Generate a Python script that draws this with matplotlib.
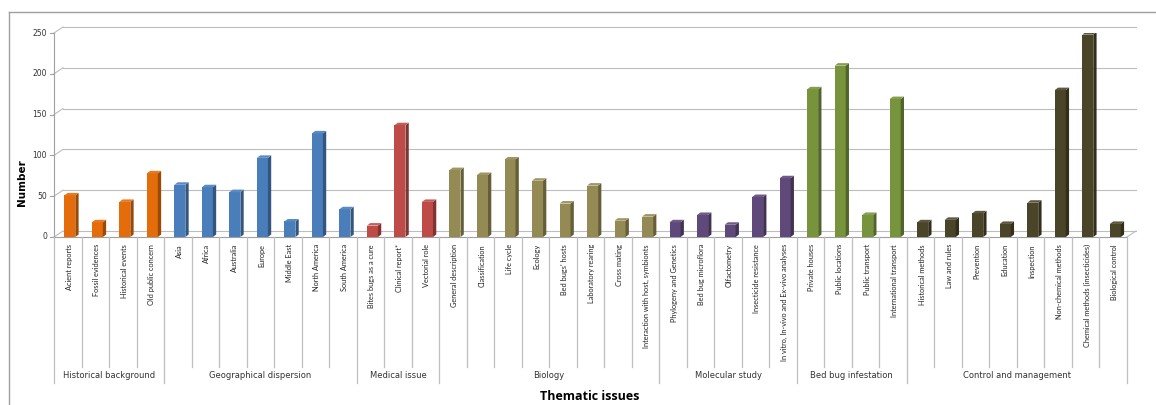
import matplotlib.pyplot as plt
from matplotlib.patches import Polygon, Rectangle
from matplotlib.lines import Line2D

groups = ["Historical background", "Geographical dispersion", "Medical issue", "Biology",
          "Molecular study", "Bed bug infestation", "Control and management"]

categories = [
    ["Acient reports", "Fossil evidences", "Historical events", "Old public concern"],
    ["Asia", "Africa", "Australia", "Europe", "Middle East", "North America", "South America"],
    ["Bites bugs as a cure", "Clinical report*", "Vectorial role"],
    ["General description", "Classification", "Life cycle", "Ecology", "Bed bugs' hosts",
     "Laboratory rearing", "Cross mating", "Interaction with host, symbionts"],
    ["Phylogeny and Genetics", "Bed bug microflora", "Olfactometry", "Insecticide resistance",
     "In vitro, In-vivo and Ex-vivo analyses"],
    ["Private houses", "Public locations", "Public transport", "International transport"],
    ["Historical methods", "Law and rules", "Prevention", "Education", "Inspection",
     "Non-chemical methods", "Chemical methods (insecticides)", "Biological control"],
]

values = [
    [51, 18, 43, 78],
    [64, 61, 55, 97, 19, 127, 34],
    [14, 137, 43],
    [82, 76, 95, 69, 41, 63, 20, 25],
    [18, 27, 15, 49, 72],
    [181, 210, 27, 169],
    [18, 21, 29, 16, 42, 180, 248, 16],
]

colors = ["#E46C0A", "#4A7EBB", "#BE4B48", "#948A54", "#5F497A", "#77933C", "#4A4428"]
y_ticks = [0, 50, 100, 150, 200, 250]


def darker(c, f):
    r, g, b = int(c[1:3], 16), int(c[3:5], 16), int(c[5:7], 16)
    return (r / 255 * f, g / 255 * f, b / 255 * f)


def lighter(c, f):
    r, g, b = int(c[1:3], 16) / 255, int(c[3:5], 16) / 255, int(c[5:7], 16) / 255
    return (r + (1 - r) * f, g + (1 - g) * f, b + (1 - b) * f)


W, H = 1156, 405
fig = plt.figure(figsize=(W / 100, H / 100), dpi=100)
ax_left, ax_right, ax_bottom, ax_top = 54, 1127, 237, 33
ax = fig.add_axes([ax_left / W, 1 - ax_bottom / H, (ax_right - ax_left) / W, (ax_bottom - ax_top) / H])

n = sum(len(c) for c in categories)
ax.set_xlim(-0.5, n - 0.5)
ax.set_ylim(0, 250)
px_x = (ax_right - ax_left) / n          # pixels per category
px_y = (ax_bottom - ax_top) / 250        # pixels per unit

# back wall offset
wdx, wdy = 9 / px_x, 6 / px_y
grid_c = "#BDBDBD"
for t in y_ticks:
    ax.add_line(Line2D([-0.5, -0.5 + wdx], [t, t + wdy], color=grid_c, lw=0.8, clip_on=False))
    ax.add_line(Line2D([-0.5 + wdx, n - 0.5 + wdx], [t + wdy, t + wdy], color=grid_c, lw=0.8, clip_on=False))
    ax.add_line(Line2D([-0.5 - 4 / px_x, -0.5], [t, t], color="#A0A0A0", lw=0.8, clip_on=False))
    ax.text(-0.5 - 7 / px_x, t, str(t), ha="right", va="center", fontsize=5.5, color="#333333")
ax.add_line(Line2D([n - 0.5, n - 0.5 + wdx], [0, wdy], color=grid_c, lw=0.8, clip_on=False))
ax.add_line(Line2D([-0.5, n - 0.5], [0, 0], color="#A0A0A0", lw=0.8, clip_on=False))
ax.add_line(Line2D([-0.5, -0.5], [0, 250], color="#A0A0A0", lw=0.8, clip_on=False))

# 3d-ish bars
bw = 11 / px_x
bx = 3.7 / px_x
sdx, sdy = 3.3 / px_x, 2.5 / px_y
i = 0
for g, cats in enumerate(categories):
    c = colors[g]
    for k, lab in enumerate(cats):
        v = values[g][k]
        x0 = i + bx - bw / 2 - sdx / 2
        x1 = x0 + bw
        ax.add_patch(Rectangle((x0, 0), bw, v, facecolor=c, edgecolor="none", zorder=3))
        ax.add_patch(Polygon([(x1, 0), (x1, v), (x1 + sdx, v + sdy), (x1 + sdx, sdy)],
                             closed=True, facecolor=darker(c, 0.68), edgecolor="none", zorder=3))
        ax.add_patch(Polygon([(x0, v), (x1, v), (x1 + sdx, v + sdy), (x0 + sdx, v + sdy)],
                             closed=True, facecolor=lighter(c, 0.1), edgecolor="none", zorder=3))
        ax.text(i + 0.05, -7 / px_y, lab, rotation=90, ha="center", va="top",
                fontsize=5.3, family="Lato", color="#222222")
        i += 1

# category separators and group labels
sep_c = "#BFBFBF"
inner_end = -(367 - ax_bottom) / px_y
group_end = -(383 - ax_bottom) / px_y
start = 0
for g, cats in enumerate(categories):
    for k in range(len(cats)):
        pos = start + k - 0.5
        y_end = group_end if k == 0 else inner_end
        ax.add_line(Line2D([pos, pos], [0, y_end], color=sep_c, lw=0.9, clip_on=False))
    mid = start + (len(cats) - 1) / 2
    ax.text(mid, -(376 - ax_bottom) / px_y, groups[g], ha="center", va="center",
            fontsize=6, color="#333333")
    start += len(cats)
ax.add_line(Line2D([n - 0.5, n - 0.5], [0, group_end], color=sep_c, lw=0.9, clip_on=False))

ax.set_xticks([])
ax.set_yticks([])
for s in ax.spines.values():
    s.set_visible(False)
ax.patch.set_visible(False)

fig.text(22 / W, 1 - 183 / H, "Number", rotation=90, ha="center", va="center",
         fontsize=7.5, fontweight="bold")
fig.text(590 / W, 1 - 397 / H, "Thematic issues", ha="center", va="center",
         fontsize=9, fontweight="bold", family="Open Sans")

# outer chart frame
fig.add_artist(Line2D([9 / W, 9 / W], [0, 1 - 12 / H], color="#A0A0A0", lw=1))
fig.add_artist(Line2D([9 / W, 1], [1 - 12 / H, 1 - 12 / H], color="#A0A0A0", lw=1))

fig.savefig("out.png", dpi=100)
